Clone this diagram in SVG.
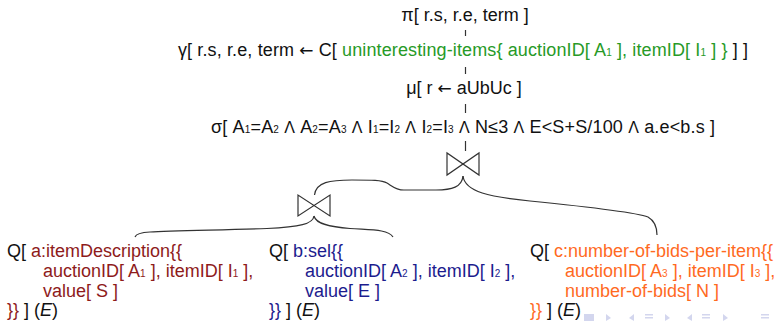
<svg xmlns="http://www.w3.org/2000/svg" width="779" height="321" viewBox="0 0 779 321">
<style>
text{font-family:"Liberation Sans",Arial,"DejaVu Sans",sans-serif;font-size:18px;fill:#111}
.s{font-size:10px}
.w{font-size:16px}
.ar{font-family:"DejaVu Sans",sans-serif;font-size:17px}
.g{fill:#279a27}
.r{fill:#8e1b1b}
.b{fill:#1c1c8e}
.o{fill:#ff6a1f}
.i{font-style:italic}
.ln{fill:none;stroke:#333;stroke-width:1.2}
.nav{fill:#d3d6ee;stroke:none}
</style>
<rect width="779" height="321" fill="#fff"/>
<g id="connectors">
<line class="ln" x1="465.5" y1="30" x2="465.5" y2="36"/>
<line class="ln" x1="465.5" y1="67" x2="465.5" y2="74"/>
<line class="ln" x1="465.5" y1="104" x2="465.5" y2="113"/>
<line class="ln" x1="465.5" y1="141" x2="465.5" y2="151"/>
<path class="ln" d="M463,176 C462,187 452,190 436,190 L404,190 C396,190 392,186 387,183 C382,180 372,180 352,180 C330,180 316,182 314.5,195"/>
<path class="ln" d="M463,176 C465,192 490,197 530,201 C580,206 635,212 648,217 C655,221 657,228 657,235"/>
<path class="ln" d="M314,216 C313,224 300,227 267,228.5 C220,230 170,231 150,232 C140,232.5 136,234 135,237"/>
<path class="ln" d="M314,216 C316,224 330,227 350,228.5 C370,230 388,229 393,237"/>
</g>
<g id="pi"><text x="465" y="21" text-anchor="middle">π[ r.s, r.e, term ]</text></g>
<g id="gamma"><text x="178" y="56" textLength="570" lengthAdjust="spacing">γ[ r.s, r.e, term <tspan class="ar">←</tspan> C[ <tspan class="g">uninteresting-items{ auctionID[ A<tspan class="s">1</tspan> ], itemID[ I<tspan class="s">1</tspan> ] }</tspan> ] ]</text></g>
<g id="mu"><text x="464" y="94" text-anchor="middle">μ[ r <tspan class="ar">←</tspan> aUbUc ]</text></g>
<g id="sigma"><text x="211" y="133" textLength="504" lengthAdjust="spacing">σ[ A<tspan class="s">1</tspan>=A<tspan class="s">2</tspan> <tspan class="w">Λ</tspan> A<tspan class="s">2</tspan>=A<tspan class="s">3</tspan> <tspan class="w">Λ</tspan> I<tspan class="s">1</tspan>=I<tspan class="s">2</tspan> <tspan class="w">Λ</tspan> I<tspan class="s">2</tspan>=I<tspan class="s">3</tspan> <tspan class="w">Λ</tspan> N≤3 <tspan class="w">Λ</tspan> E&lt;S+S/100 <tspan class="w">Λ</tspan> a.e&lt;b.s  ]</text></g>
<g id="join1"><path class="ln" d="M447,153 V175 L479,153 V175 Z"/></g>
<g id="join2"><path class="ln" d="M298,195 V216 L330,195 V216 Z"/></g>
<g id="qa">
<text x="7" y="257">Q[ <tspan class="r">a:itemDescription{{</tspan></text>
<text x="43" y="277" class="r">auctionID[ A<tspan class="s">1</tspan> ], itemID[ I<tspan class="s">1</tspan> ],</text>
<text x="43" y="297" class="r">value[ S ]</text>
<text x="7" y="316"><tspan class="r">}}</tspan> ] (<tspan class="i">E</tspan>)</text>
</g>
<g id="qb">
<text x="269" y="257">Q[ <tspan class="b">b:sel{{</tspan></text>
<text x="305" y="277" class="b">auctionID[ A<tspan class="s">2</tspan> ], itemID[ I<tspan class="s">2</tspan> ],</text>
<text x="305" y="297" class="b">value[ E ]</text>
<text x="269" y="316"><tspan class="b">}}</tspan> ] (<tspan class="i">E</tspan>)</text>
</g>
<g id="qc">
<text x="530" y="257">Q[ <tspan class="o">c:number-of-bids-per-item{{</tspan></text>
<text x="565" y="277" class="o">auctionID[ A<tspan class="s">3</tspan> ], itemID[ I<tspan class="s">3</tspan> ],</text>
<text x="565" y="297" class="o">number-of-bids[ N ]</text>
<text x="530" y="316"><tspan class="o">}}</tspan> ] (<tspan class="i">E</tspan>)</text>
</g>
<g id="nav">
<rect class="nav" x="584" y="314" width="10" height="7"/>
<path class="nav" d="M606,314 L611,318 L606,321 Z"/>
<path class="nav" d="M634,314 L629,318 L634,321 Z"/>
<rect class="nav" x="645" y="314" width="8" height="1.5"/>
<rect class="nav" x="645" y="317" width="8" height="1.5"/>
<path class="nav" d="M665,314 L670,318 L665,321 Z"/>
<path class="nav" d="M692,314 L687,318 L692,321 Z"/>
<rect class="nav" x="702" y="314" width="8" height="1.5"/>
<rect class="nav" x="702" y="317" width="8" height="1.5"/>
<path class="nav" d="M723,314 L728,318 L723,321 Z"/>
<rect class="nav" x="761" y="314" width="8" height="1.5"/>
<rect class="nav" x="761" y="317" width="8" height="1.5"/>
</g>
</svg>
